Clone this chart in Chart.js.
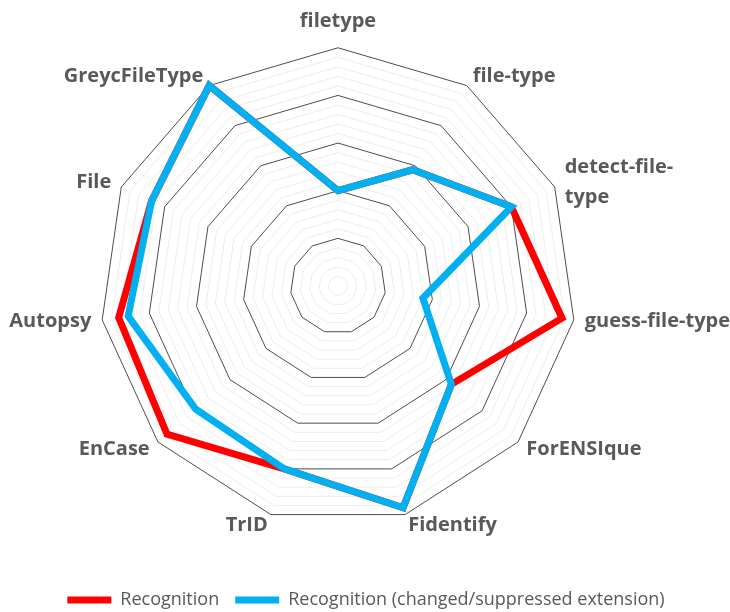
<!DOCTYPE html>
<html>
<head>
<meta charset="utf-8">
<script src="https://cdn.jsdelivr.net/npm/chart.js@4/dist/chart.umd.min.js"></script>
<style>
  html, body { margin: 0; padding: 0; background: #fff; overflow: hidden; }
  #wrap { position: relative; width: 730px; height: 612px; overflow: hidden; }
  /* canvas is a bit larger than the page so the radar fit leaves room for the wide labels */
  #chart { position: absolute; left: -26px; top: -14px; }
</style>
</head>
<body>
<div id="wrap"><canvas id="chart" width="784" height="633"></canvas></div>
<script>
// categories, clockwise from the top
const tools = ['filetype', 'file-type', ['detect-file-', 'type'], 'guess-file-type', 'ForENSIque',
  'Fidentify', 'TrID', 'EnCase', 'Autopsy', 'File', 'GreycFileType'];

// values in percent
const recognition = [40, 58, 80, 95, 63, 97, 80, 95, 93, 86, 100];
const recognitionChanged = [40, 58, 80, 36, 63, 97, 80, 79, 89, 86, 100];

const seriesNames = ['Recognition', 'Recognition (changed/suppressed extension)'];
const seriesColors = ['#ff0000', '#00b0f0'];

const LABEL_PAD = 11;

const makeSet = (i, values, order) => ({
    label: seriesNames[i],
    data: values,
    borderColor: seriesColors[i],
    backgroundColor: seriesColors[i],
    pointBorderColor: seriesColors[i],
    pointBackgroundColor: seriesColors[i],
    pointBorderWidth: 7,
    order: order
});

// Excel centres the side labels vertically on their spoke, Chart.js top/bottom-aligns them
function centreSideLabels(scale) {
    const items = scale._pointLabelItems;
    if (!items) return;
    items.forEach((item, i) => {
        const deg = Math.round(scale.getIndexAngle(i) * 180 / Math.PI) % 360;
        if (deg === 0) return;
        const p = scale.getPointPosition(i, scale.drawingArea + LABEL_PAD);
        const h = item.bottom - item.top;
        item.y = item.top = p.y - h / 2;
        item.bottom = item.top + h;
    });
}

const ctx = document.getElementById('chart');
new Chart(ctx, {
    type: 'radar',
    data: {
        labels: tools,
        datasets: [makeSet(0, recognition, 1), makeSet(1, recognitionChanged, 0)]
    },
    options: {
        responsive: false,
        animation: false,
        layout: { padding: 0 },
        elements: {
            line: { borderWidth: 7, fill: false, tension: 0, borderJoinStyle: 'miter', borderCapStyle: 'round' },
            point: { radius: 0, hoverRadius: 0 }
        },
        scales: {
            r: {
                min: 0,
                max: 100,
                beginAtZero: true,
                afterFit: centreSideLabels,
                ticks: { stepSize: 4, display: false },
                angleLines: { display: false },
                grid: {
                    circular: false,
                    lineWidth: 1,
                    color: c => (c.tick && c.tick.value % 20 === 0) ? '#4d4d4d' : '#ececec'
                },
                pointLabels: {
                    padding: LABEL_PAD,
                    color: '#595959',
                    font: { family: 'Open Sans', size: 20, weight: 'bold', lineHeight: 1.5 }
                }
            }
        },
        plugins: {
            legend: {
                position: 'bottom',
                labels: {
                    sort: (a, b) => a.datasetIndex - b.datasetIndex,
                    usePointStyle: true,
                    pointStyle: 'line',
                    pointStyleWidth: 44,
                    boxHeight: 7,
                    padding: 16,
                    color: '#595959',
                    font: { family: 'Open Sans', size: 18 }
                }
            },
            tooltip: { enabled: false }
        }
    }
});
</script>
</body>
</html>
